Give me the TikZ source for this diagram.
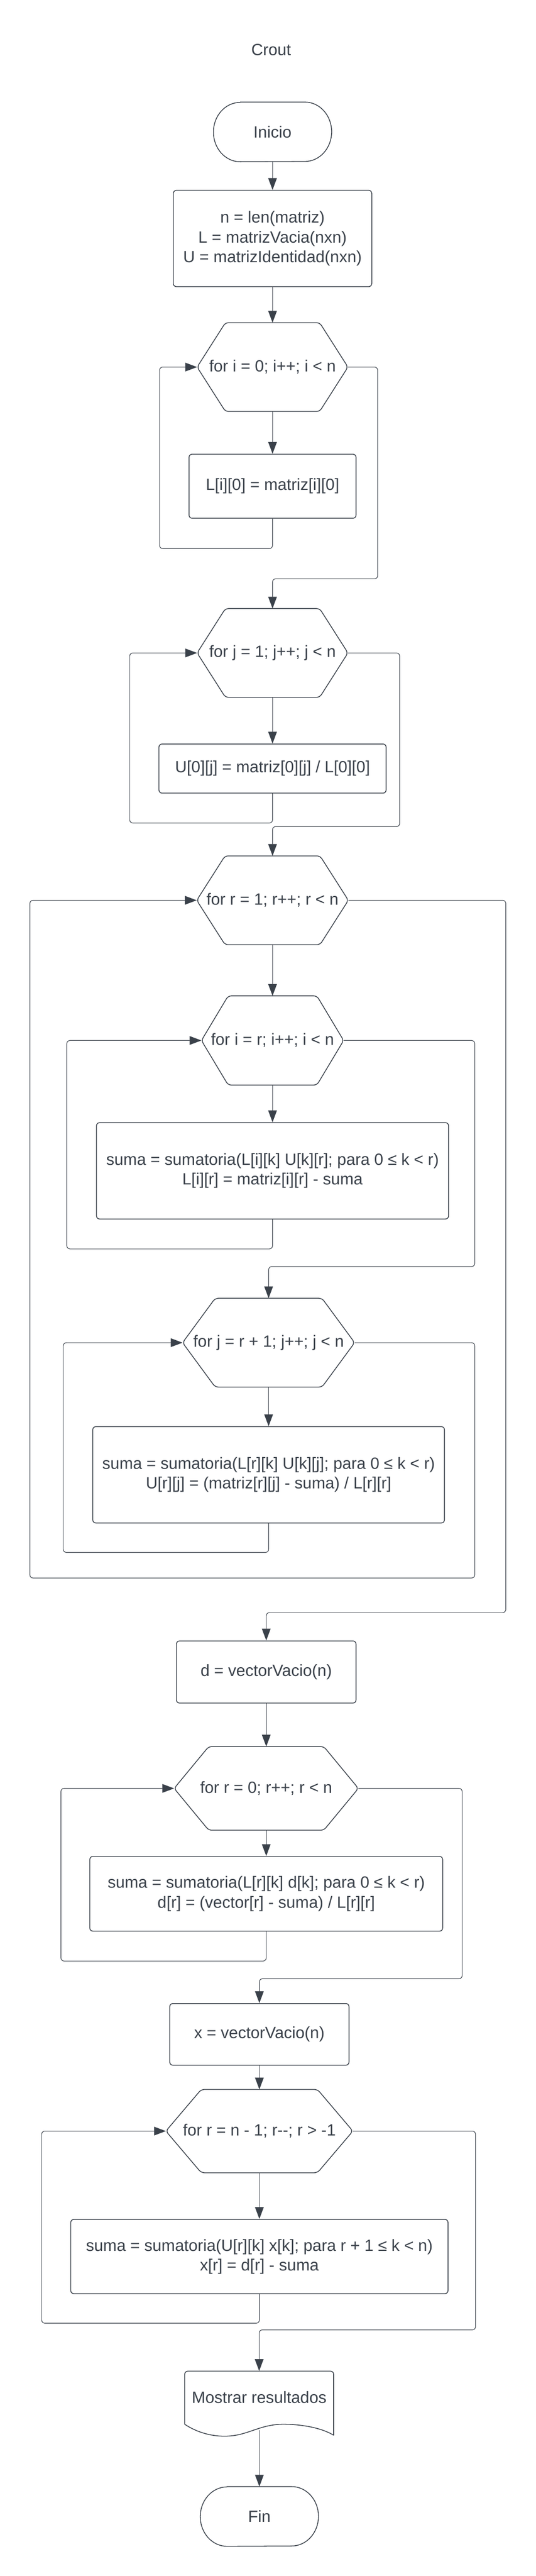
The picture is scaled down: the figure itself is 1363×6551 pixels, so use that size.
\documentclass[tikz,border=0pt]{standalone}
\usepackage{fontspec}
\setmainfont{Liberation Sans}
\usetikzlibrary{arrows.meta,calc}
\definecolor{ink}{HTML}{3A414A}
\newcommand\hexdraw[2]{\draw[shp] (#1.west) -- ($(#1.north west)+(#2,0)$) -- ($(#1.north east)+(-#2,0)$) -- (#1.east) -- ($(#1.south east)+(-#2,0)$) -- ($(#1.south west)+(#2,0)$) -- cycle;}
\newcommand\termdraw[1]{\draw[tshp] ($(#1.north west)+(68,0)$) -- ($(#1.north east)+(-68,0)$) arc[start angle=90,end angle=-90,x radius=34pt,y radius=37.75pt] -- ($(#1.south west)+(68,0)$) arc[start angle=270,end angle=90,x radius=34pt,y radius=37.75pt] -- cycle;}
\newcommand\dd{\mbox{-}\mbox{-}}
\begin{document}
\begin{tikzpicture}[x=0.5pt,y=-0.5pt,
  every node/.style={font=\fontsize{20.7pt}{25pt}\selectfont, text=ink, align=center, inner sep=0pt},
  shp/.style={draw=ink, line width=1pt, rounded corners=4pt},
  tshp/.style={draw=ink, line width=1pt, line join=round},
  bx/.style 2 args={draw=ink, line width=1pt, rounded corners=4pt, minimum width=#1, minimum height=#2},
  hx/.style 2 args={minimum width=#1, minimum height=#2},
  cn/.style={draw=ink, line width=0.75pt, rounded corners=4pt, -{Triangle[length=15pt,width=11pt]}}]
\fill[white] (0,0) rectangle (1363,6551);
\useasboundingbox (0,0) rectangle (1363,6551);

\node (title) at (690,126) {Crout};

\node[hx={150pt}{75.5pt}] (ini) at (693.5,335.5) {Inicio};
\termdraw{ini}

\node[bx={252.5pt}{122.5pt}] (b1) at (693.5,606.5) {n = len(matriz)\\L = matrizVacia(nxn)\\U = matrizIdentidad(nxn)};

\node[hx={191.5pt}{112.5pt}] (h1) at (693.5,933.5) {for i = 0; i++; i < n};
\hexdraw{h1}{72}
\node[bx={212.5pt}{81.5pt}] (b2) at (693.5,1236.5) {L[i][0] = matriz[i][0]};

\node[hx={191.5pt}{112.5pt}] (h2) at (693.5,1660.5) {for j = 1; j++; j < n};
\hexdraw{h2}{72}
\node[bx={289pt}{62.5pt}] (b3) at (693.5,1954.5) {U[0][j] = matriz[0][j] / L[0][0]};

\node[hx={192.5pt}{112.5pt}] (h3) at (693.5,2289.5) {for r = 1; r++; r < n};
\hexdraw{h3}{72}
\node[hx={180.5pt}{113pt}] (h4) at (693.5,2646) {for i = r; i++; i < n};
\hexdraw{h4}{68}
\node[bx={448pt}{122.5pt}] (b4) at (693.5,2977.5) {suma = sumatoria(L[i][k] U[k][r]; para 0 ≤ k < r)\\L[i][r] = matriz[i][r] - suma};

\node[hx={218.5pt}{112.5pt}] (h5) at (683.5,3414.5) {for j = r + 1; j++; j < n};
\hexdraw{h5}{83}
\node[bx={447.5pt}{122.5pt}] (b5) at (683.5,3750.5) {suma = sumatoria(L[r][k] U[k][j]; para 0 ≤ k < r)\\U[r][j] = (matriz[r][j] - suma) / L[r][r]};

\node[bx={228.5pt}{79pt}] (b6) at (677.5,4252) {d = vectorVacio(n)};
\node[hx={234pt}{106pt}] (h6) at (677.5,4548) {for r = 0; r++; r < n};
\hexdraw{h6}{88}
\node[bx={449pt}{95pt}] (b7) at (677.5,4816) {suma = sumatoria(L[r][k] d[k]; para 0 ≤ k < r)\\d[r] = (vector[r] - suma) / L[r][r]};

\node[bx={228pt}{78.5pt}] (b8) at (660,5173.5) {x = vectorVacio(n)};
\node[hx={237.5pt}{105.5pt}] (h7) at (660,5419.5) {for r = n - 1; r\dd; r > -1};
\hexdraw{h7}{90}
\node[bx={480pt}{94.5pt}] (b9) at (660,5738.5) {suma = sumatoria(U[r][k] x[k]; para r + 1 ≤ k < n)\\x[r] = d[r] - suma};

\node[hx={189.5pt}{66pt}] (dc) at (659.5,6096) {Mostrar resultados};
\draw[draw=ink, line width=1pt, line join=round] (470,6165) [rounded corners=4pt] -- (470,6030) -- (849,6030) -- (849,6100) [sharp corners] -- (849,6193)
  .. controls (820,6175) and (770,6165) .. (721,6165)
  .. controls (670,6165) and (640,6186) .. (600,6193)
  .. controls (565,6199) and (515,6195) .. (470,6165) -- cycle;
\coordinate (dcb) at (660,6180);

\node[hx={150pt}{75.5pt}] (fin) at (660,6399.5) {Fin};
\termdraw{fin}

% straight connectors
\draw[cn] (ini.south) -- (b1.north);
\draw[cn] (b1.south) -- (h1.north);
\draw[cn] (h1.south) -- (b2.north);
\draw[cn] (h2.south) -- (b3.north);
\draw[cn] (h3.south) -- (h4.north);
\draw[cn] (h4.south) -- (b4.north);
\draw[cn] (h5.south) -- (b5.north);
\draw[cn] (b6.south) -- (h6.north);
\draw[cn] (h6.south) -- (b7.north);
\draw[cn] (b8.south) -- (h7.north);
\draw[cn] (h7.south) -- (b9.north);
\draw[cn] (dcb) -- (fin.north);

% loops
\draw[cn] (b2.south) |- (406,1395) |- (h1.west);
\draw[cn] (h1.east) -| (961,1472) -| (h2.north);
\draw[cn] (b3.south) |- (330,2093) |- (h2.west);
\draw[cn] (h2.east) -| (1017,2102) -| (h3.north);
\draw[cn] (b4.south) |- (170,3176) |- (h4.west);
\draw[cn] (h4.east) -| (1208,3221) -| (h5.north);
\draw[cn] (b5.south) |- (161,3948) |- (h5.west);
\draw[cn] (h5.east) -| (1208,4013) -- (76,4013) |- (h3.west);
\draw[cn] (h3.east) -| (1287,4101) -| (b6.north);
\draw[cn] (b7.south) |- (155,4987) |- (h6.west);
\draw[cn] (h6.east) -| (1176,5032) -| (b8.north);
\draw[cn] (b9.south) |- (106,5908) |- (h7.west);
\draw[cn] (h7.east) -| (1210,5925) -| (dc.north);
\end{tikzpicture}
\end{document}
